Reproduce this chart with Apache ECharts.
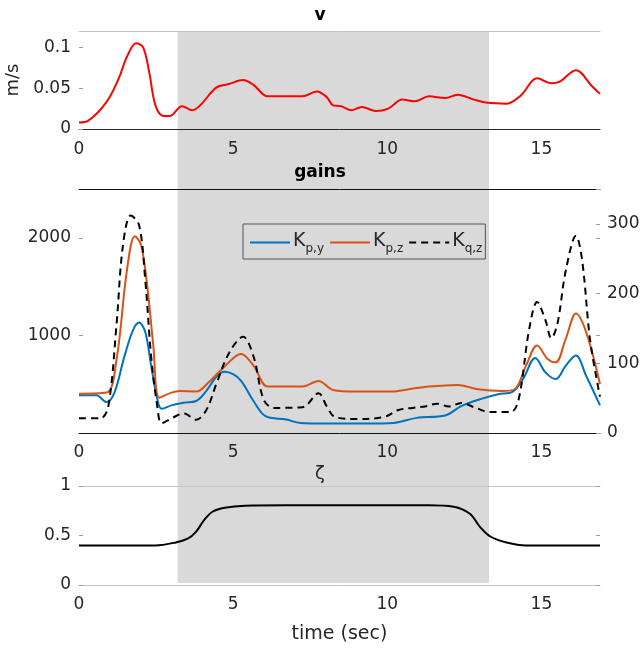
<!DOCTYPE html>
<html>
<head>
<meta charset="utf-8">
<script src="https://cdn.jsdelivr.net/npm/echarts@6/dist/echarts.min.js"></script>
<style>html,body{margin:0;padding:0;background:#fff}#c{width:640px;height:648px}</style>
</head>
<body>
<div id="c"></div>
<script>
// ---- data ----
const X_MIN = 0, X_MAX = 16.9, X_TICK = 5;
const SHADE_START = 3.2, SHADE_END = 13.3;

const vTime  = [0,0.29,0.89,1.28,1.55,1.85,2.08,2.28,2.48,2.74,2.94,3.34,3.67,3.93,4.46,4.86,5.32,5.66,6.12,6.72,7.25,7.71,8.04,8.24,8.5,8.83,9.17,9.63,10.03,10.49,10.89,11.35,11.88,12.28,12.81,13.27,13.87,14.33,14.86,15.32,15.59,16.12,16.65,16.9];
const vValue = [0.008,0.010,0.033,0.061,0.088,0.105,0.100,0.069,0.029,0.016,0.016,0.028,0.023,0.029,0.051,0.055,0.060,0.054,0.040,0.040,0.040,0.046,0.039,0.029,0.028,0.023,0.027,0.022,0.025,0.036,0.034,0.040,0.038,0.042,0.036,0.032,0.031,0.041,0.062,0.056,0.058,0.072,0.052,0.043];

const kpyTime  = [0,0.56,0.89,1.15,1.48,1.75,1.95,2.15,2.34,2.54,2.68,3.0,3.4,3.8,4.13,4.46,4.73,5.0,5.26,5.66,6.05,6.72,7.18,8.04,9.36,10.2,10.95,11.88,12.4,13.07,13.6,14.07,14.4,14.8,15.13,15.46,15.79,16.12,16.45,16.9];
const kpyValue = [386,386,317,414,793,1052,1131,1034,690,345,248,283,310,328,431,579,628,603,534,328,172,138,103,97,97,103,155,179,276,352,397,424,552,769,621,552,690,793,586,283];

const kpzTime  = [0,0.89,1.22,1.55,1.81,2.01,2.21,2.41,2.61,3.0,3.27,3.8,4.2,4.66,5.26,5.66,6.12,6.72,7.25,7.77,8.24,8.97,10.16,10.69,11.35,12.28,12.94,13.73,14.13,14.5,14.86,15.2,15.46,15.79,16.12,16.45,16.9];
const kpzValue = [403,414,759,1655,2017,1931,1517,897,362,414,431,424,517,662,810,690,476,476,476,534,441,424,424,448,476,493,448,431,448,690,897,759,724,966,1224,1034,500];

const kqzTime  = [0,0.69,0.95,1.22,1.42,1.68,1.95,2.15,2.34,2.54,2.68,3.0,3.4,3.8,4.13,4.46,4.86,5.32,5.66,5.99,6.32,7.25,7.77,8.04,8.3,8.97,9.9,10.36,10.82,11.22,11.62,12.0,12.4,12.87,13.34,14.0,14.26,14.6,14.86,15.13,15.32,15.52,15.79,16.12,16.32,16.58,16.9];
const kqzValue = [21,21,38,157,267,312,298,219,110,38,14,21,28,19,33,71,114,138,110,48,36,37,57,38,23,20,23,33,36,38,42,38,43,36,30,30,48,148,188,162,136,157,233,283,248,133,52];

const zetaTime  = [0,2.48,3.14,3.54,3.8,4.07,4.33,4.73,5.39,6.72,11.35,12.15,12.68,13.0,13.34,13.87,14.5,16.9];
const zetaValue = [0.4,0.4,0.43,0.47,0.54,0.66,0.74,0.78,0.8,0.805,0.805,0.79,0.72,0.59,0.49,0.43,0.40,0.4];

const legendNames = ['Kpy','Kpz','Kqz'];
const legendSubs  = ['p,y','p,z','q,z'];

const pairs = (t, v) => t.map((x, i) => [x, v[i]]);

// ---- style ----
const FONT = 'DejaVu Sans';
const TXT = '#262626';
const LIGHT = '#c4c4c4';
const TICKC = '#9a9a9a';
const FS = 17;
const G = {left: 79, right: 40, outerBoundsMode: 'none', containLabel: false};
const numFmt = v => String(v);

function lbl(extra) {
  return Object.assign({color: TXT, fontFamily: FONT, fontSize: FS, formatter: numFmt}, extra || {});
}
function xAx(grid, pos, lineColor, showLabels, extra) {
  return Object.assign({
    type: 'value', gridIndex: grid, position: pos, min: X_MIN, max: X_MAX, interval: X_TICK, z: 4,
    axisLine: {show: true, onZero: false, lineStyle: {color: lineColor, width: 1}},
    axisTick: {show: false},
    axisLabel: lbl({show: showLabels, margin: 11, showMaxLabel: false}),
    splitLine: {show: false}
  }, extra || {});
}
function yAx(grid, pos, min, max, interval, extra) {
  return Object.assign({
    type: 'value', gridIndex: grid, position: pos, min: min, max: max, interval: interval, z: 4,
    axisLine: {show: false, onZero: false},
    axisTick: {show: true, inside: true, length: 4, lineStyle: {color: TICKC}},
    axisLabel: lbl({margin: 8, showMaxLabel: false}),
    splitLine: {show: false}
  }, extra || {});
}
function grid(top, height) { return Object.assign({top: top, height: height}, G); }

const chart = echarts.init(document.getElementById('c'), null, {renderer: 'canvas'});
chart.setOption({
  animation: false,
  backgroundColor: '#fff',
  textStyle: {fontFamily: FONT},
  title: [
    {text: 'v', left: 'center', top: 7, padding: 0, textStyle: {fontFamily: FONT, fontSize: 17, fontWeight: 'bold', color: '#000'}},
    {text: 'gains', left: 'center', top: 164, padding: 0, textStyle: {fontFamily: FONT, fontSize: 17, fontWeight: 'bold', color: '#000'}},
    {text: 'ζ', left: 'center', top: 465, padding: 0, textStyle: {fontFamily: FONT, fontSize: 18, fontWeight: 'normal', color: TXT}}
  ],
  grid: [grid(31, 98), grid(189, 244), grid(486, 99), grid(31, 552)],
  legend: {
    data: legendNames, left: 243, top: 224, orient: 'horizontal',
    padding: [8, 3, 4, 6], itemGap: 5, itemWidth: 40, itemHeight: 2,
    itemStyle: {opacity: 0},
    borderColor: '#555', borderWidth: 1, backgroundColor: 'transparent',
    formatter: function (name) { return '{k|K}{s|' + legendSubs[legendNames.indexOf(name)] + '}'; },
    textStyle: {
      color: TXT, fontFamily: FONT, padding: [0, 0, 0, -2],
      rich: {
        k: {fontSize: 19, fontFamily: FONT, color: TXT, lineHeight: 21, verticalAlign: 'top'},
        s: {fontSize: 12, fontFamily: FONT, color: TXT, lineHeight: 13, padding: [11, 0, 0, 0], verticalAlign: 'top'}
      }
    }
  },
  xAxis: [
    xAx(0, 'bottom', TXT, true, {axisLabel: lbl({margin: 12, showMaxLabel: false})}),
    xAx(0, 'top', LIGHT, false),
    xAx(1, 'bottom', '#111', true),
    xAx(1, 'top', '#111', false),
    xAx(2, 'bottom', LIGHT, true, {name: 'time (sec)', nameLocation: 'middle', nameGap: 40, nameTextStyle: {color: TXT, fontFamily: FONT, fontSize: 19}}),
    xAx(2, 'top', LIGHT, false),
    xAx(3, 'bottom', LIGHT, false, {show: false, splitLine: {show: true, lineStyle: {color: 'rgba(255,255,255,0.45)', width: 1}}})
  ],
  yAxis: [
    yAx(0, 'left', 0, 0.12, 0.05, {name: 'm/s', nameLocation: 'middle', nameGap: 49, nameTextStyle: {color: TXT, fontFamily: FONT, fontSize: 18}}),
    yAx(1, 'left', 0, 2500, 1000, {axisLabel: lbl({margin: 8, showMinLabel: false, showMaxLabel: false})}),
    yAx(1, 'right', 0, 350, 100, {axisLabel: lbl({margin: 7, showMaxLabel: false})}),
    yAx(1, 'right', 0, 2500, 1000, {axisLabel: {show: false}}),
    yAx(2, 'left', 0, 1, 0.5, {axisLabel: lbl({margin: 8, showMaxLabel: true})}),
    yAx(2, 'right', 0, 1, 0.5, {axisLabel: {show: false}}),
    yAx(3, 'left', 0, 1, 0.5, {show: false})
  ],
  series: [
    {
      type: 'line', xAxisIndex: 6, yAxisIndex: 6, data: [], symbol: 'none', silent: true, z: 1,
      markArea: {silent: true, itemStyle: {color: '#d9d9d9', borderRadius: 3}, data: [[{xAxis: SHADE_START}, {xAxis: SHADE_END}]]}
    },
    {name: 'v', type: 'line', xAxisIndex: 0, yAxisIndex: 0, data: pairs(vTime, vValue), smooth: 0.35, symbol: 'none', z: 5,
      lineStyle: {color: '#ff0000', width: 2}},
    {name: 'Kpy', type: 'line', xAxisIndex: 2, yAxisIndex: 1, data: pairs(kpyTime, kpyValue), smooth: 0.35, symbol: 'none', z: 5,
      color: '#0072BD', lineStyle: {color: '#0072BD', width: 2}},
    {name: 'Kpz', type: 'line', xAxisIndex: 2, yAxisIndex: 1, data: pairs(kpzTime, kpzValue), smooth: 0.35, symbol: 'none', z: 5,
      color: '#D95319', lineStyle: {color: '#D95319', width: 2}},
    {name: 'Kqz', type: 'line', xAxisIndex: 2, yAxisIndex: 2, data: pairs(kqzTime, kqzValue), smooth: 0.35, symbol: 'none', z: 6,
      color: '#000', lineStyle: {color: '#000', width: 2, type: [7, 5]}},
    {name: 'zeta', type: 'line', xAxisIndex: 4, yAxisIndex: 4, data: pairs(zetaTime, zetaValue), smooth: 0.35, symbol: 'none', z: 5,
      lineStyle: {color: '#000', width: 2}}
  ]
});
</script>
</body>
</html>
